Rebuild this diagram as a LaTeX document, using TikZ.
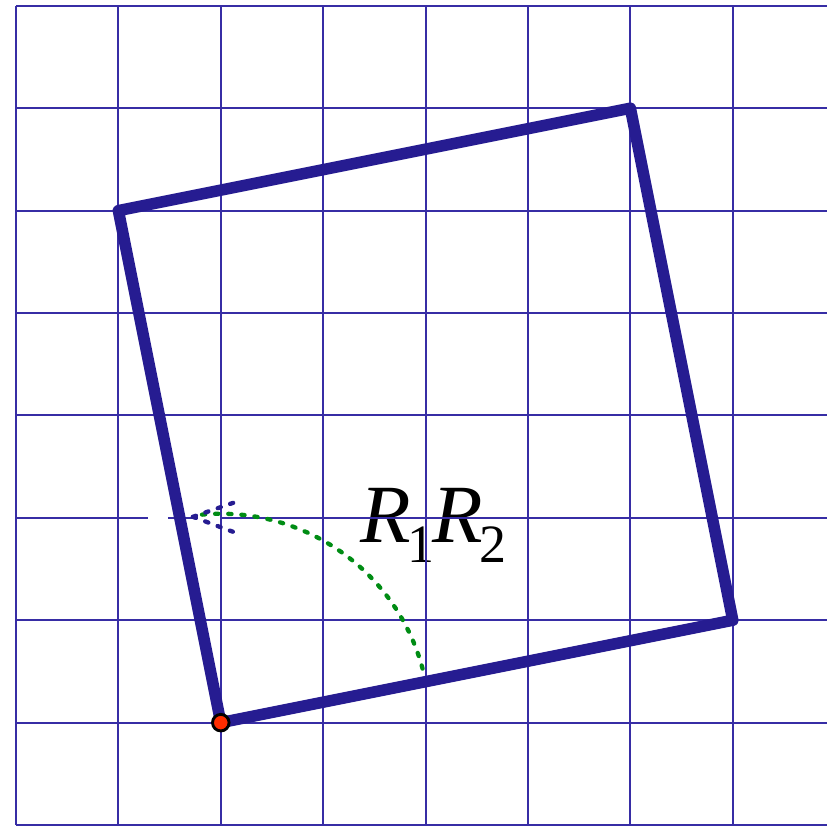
\documentclass[tikz,border=0pt]{standalone}
\usepackage{fontspec}
\setmainfont{Liberation Serif}
\usetikzlibrary{calc}
\definecolor{gridblue}{RGB}{55,45,165}
\definecolor{sqblue}{RGB}{38,28,145}
\definecolor{arcgreen}{RGB}{0,140,20}
\definecolor{ptred}{RGB}{255,45,0}
\tikzset{
  gridline/.style={draw=gridblue, line width=0.55pt},
  sqline/.style={draw=sqblue, line width=3.2pt, line join=round, line cap=round},
  arcdots/.style={draw=arcgreen, line width=1.2pt, line cap=round, dash pattern=on 0.9pt off 2.75pt},
  headdots/.style={draw=sqblue, line width=1.2pt, line cap=round, dash pattern=on 0.9pt off 2.75pt},
  vertex/.style={circle, draw=black, line width=0.8pt, fill=ptred, minimum size=4.6pt, inner sep=0pt},
}
\begin{document}
\begin{tikzpicture}
\useasboundingbox (-0.156,-0.0098) rectangle (7.92,8.057);
% label
\node[anchor=base west, inner sep=0pt, font=\fontsize{23}{23}\selectfont] (lbl) at (3.36,2.764)
  {\textit{R}\kern-1pt\raisebox{-5.6pt}{\fontsize{15}{15}\selectfont 1}\kern-0.5pt\textit{R}\kern-1pt\raisebox{-5.6pt}{\fontsize{15}{15}\selectfont 2}};
% grid
\foreach \i in {0,...,7} \draw[gridline] (\i,0) -- (\i,8);
\foreach \j in {0,1,2,4,5,6,7,8} \draw[gridline] (0,\j) -- (7.92,\j);
\draw[gridline] (0,3) -- (1.289,3);
\draw[gridline] (1.484,3) -- (1.768,3);
\draw[gridline] (1.99,3) -- (7.92,3);
% square
\coordinate (A) at (2,1);
\coordinate (B) at (7,2);
\coordinate (C) at (6,7);
\coordinate (D) at (1,6);
\draw[sqline] (A) -- (B) -- (C) -- (D) -- cycle;
% arc
\draw[arcdots] ($(A)+(15:2.04)$) arc[start angle=15, end angle=97, radius=2.04];
\coordinate (tip) at (1.728,3.01);
\coordinate (up) at (2.13,3.15);
\coordinate (dn) at (2.13,2.86);
\draw[headdots] (tip) -- (up);
\draw[headdots] (tip) -- (dn);
% point
\node[vertex] (P) at (A) {};
\end{tikzpicture}
\end{document}
